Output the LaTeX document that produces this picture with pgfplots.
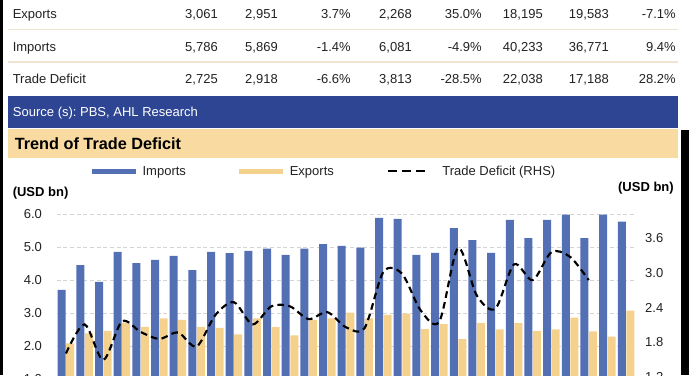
\documentclass[border=0pt]{standalone}
\usepackage{fontspec}
\setmainfont{Liberation Sans}
\usepackage{pgfplots}
\pgfplotsset{compat=1.18}
\definecolor{bandblue}{HTML}{2E4593}
\definecolor{bandtan}{HTML}{F9DBA1}
\definecolor{barblue}{HTML}{5470B4}
\definecolor{bartan}{HTML}{F5D18E}
\definecolor{gridc}{HTML}{D4D4D4}
\definecolor{sepc}{HTML}{EEE4CF}
\definecolor{tabtext}{HTML}{222222}
\newcommand{\fs}{\fontsize{9.75}{11.7}\selectfont}
\frenchspacing
\begin{document}
\fs
\begin{tikzpicture}[x=0.75pt,y=-0.75pt,
  txt/.style={inner sep=0pt, text height=7pt, text depth=0pt, text=tabtext, font=\fs}]
\path[use as bounding box] (0,0) rectangle (689,375);
\clip (0,0) rectangle (689,375);
\fill[white] (0,0) rectangle (689,375);
\fill[black] (0,0) rectangle (3,375);
\fill[black] (681,130) rectangle (689,375);
% table
\draw[sepc, line width=0.9pt] (8,29.5) -- (678,29.5);
\draw[sepc, line width=0.9pt] (8,62) -- (678,62);
\foreach \lab/\yy in {Exports/14, Imports/46.7, Trade Deficit/79.3}
  \node[txt, anchor=west] at (12.5,\yy) {\lab};
\foreach \xx/\a/\b/\c in {218/3{,}061/5{,}786/2{,}725, 278/2{,}951/5{,}869/2{,}918, 351/3.7\%/-1.4\%/-6.6\%, 412/2{,}268/6{,}081/3{,}813, 482/35.0\%/-4.9\%/-28.5\%, 543/18{,}195/40{,}233/22{,}038, 609/19{,}583/36{,}771/17{,}188, 676/-7.1\%/9.4\%/28.2\%}{
  \node[txt, anchor=east] at (\xx,14) {\a};
  \node[txt, anchor=east] at (\xx,46.7) {\b};
  \node[txt, anchor=east] at (\xx,79.3) {\c};
}
% bands
\fill[bandblue] (8,96) rectangle (678,128.3);
\node[txt, anchor=west, text=white] at (12.7,111.5) {Source (s): PBS, AHL Research};
\fill[bandtan] (8,129.3) rectangle (678,158.3);
\node[inner sep=0pt, text height=8.6pt, text depth=0pt, anchor=west, font=\fontsize{12.2}{14}\selectfont\bfseries] at (14.5,143.5) {Trend of Trade Deficit};
% unit labels
\node[txt, anchor=west, font=\fs\bfseries, text=black] at (12.5,191.7) {(USD bn)};
\node[txt, anchor=east, font=\fs\bfseries, text=black] at (674,186.7) {(USD bn)};

\begin{axis}[
  at={(42.45pt,-309.225pt)}, anchor=south west,
  width=434.1pt, height=148.5pt, scale only axis,
  xmin=-0.5, xmax=30.5, ymin=0, ymax=6,
  axis line style={draw=none}, xtick=\empty,
  ytick={1,2,3,4,5,6},
  ymajorgrids, grid style={gridc, dash pattern=on 3pt off 2pt, line width=0.6pt},
  major tick length=0pt,
  /pgf/number format/assume math mode=true,
  yticklabel style={font=\fs, text=tabtext, xshift=-7.6pt, /pgf/number format/.cd, fixed, fixed zerofill, precision=1},
  clip=false,
]
\addplot[ybar, bar width=6pt, bar shift=-3.2pt, fill=barblue, draw=none] coordinates {
(0,3.71) (1,4.46) (2,3.95) (3,4.86) (4,4.52) (5,4.62) (6,4.74) (7,4.31) (8,4.86) (9,4.82)
(10,4.89) (11,4.96) (12,4.77) (13,4.96) (14,5.10) (15,5.04) (16,4.99) (17,5.89) (18,5.86) (19,4.77)
(20,4.83) (21,5.58) (22,5.22) (23,4.83) (24,5.83) (25,5.28) (26,5.83) (27,5.99) (28,5.28) (29,5.99) (30,5.78)};
\addplot[ybar, bar width=6pt, bar shift=3.2pt, fill=bartan, draw=none] coordinates {
(0,2.09) (1,2.39) (2,2.47) (3,2.72) (4,2.59) (5,2.85) (6,2.80) (7,2.59) (8,2.56) (9,2.36)
(10,2.85) (11,2.58) (12,2.33) (13,2.80) (14,2.85) (15,3.02) (16,2.85) (17,2.95) (18,2.99) (19,2.52)
(20,2.67) (21,2.22) (22,2.70) (23,2.51) (24,2.70) (25,2.46) (26,2.51) (27,2.87) (28,2.45) (29,2.29) (30,3.08)};
\end{axis}

\begin{axis}[
  at={(42.45pt,-309.225pt)}, anchor=south west,
  width=434.1pt, height=148.5pt, scale only axis,
  xmin=-0.5, xmax=30.5, ymin=0.6, ymax=4.0,
  axis line style={draw=none}, xtick=\empty,
  axis y line*=right,
  ytick={1.2,1.8,2.4,3.0,3.6},
  major tick length=0pt,
  /pgf/number format/assume math mode=true,
  yticklabel style={font=\fs, text=tabtext, xshift=3.9pt, /pgf/number format/.cd, fixed, fixed zerofill, precision=1},
  clip=false,
  legend columns=3,
  legend style={at={(0.0613,1.2177)}, anchor=west, draw=none, fill=none, inner sep=0pt, outer sep=0pt,
    font=\fs, text=tabtext,
    /tikz/every odd column/.append style={column sep=5.25pt},
    /tikz/every even column/.append style={column sep=40pt},
    nodes={inner sep=0pt, text height=7pt, text depth=0pt}},
  legend cell align=left,
]
\addlegendimage{legend image code/.code={\fill[barblue] (0pt,-1.4pt) rectangle (32.25pt,1.4pt);}}
\addlegendentry{Imports}
\addlegendimage{legend image code/.code={\fill[bartan] (0pt,-1.4pt) rectangle (32.25pt,1.4pt);}}
\addlegendentry{Exports}
\addplot[black, line width=1.6pt, dash pattern=on 5pt off 3.2pt, smooth,
  legend image code/.code={\draw[black, line width=1.6pt, dash pattern=on 6.75pt off 3.75pt] (0pt,0pt) -- (27.75pt,0pt); \path (34.5pt,0pt);}]
coordinates {
(0,1.61) (1,2.11) (2,1.50) (3,2.16) (4,1.98) (5,1.86) (6,1.97) (7,1.73) (8,2.27) (9,2.49)
(10,2.11) (11,2.42) (12,2.42) (13,2.20) (14,2.32) (15,2.06) (16,2.05) (17,3.01) (18,2.98) (19,2.35)
(20,2.16) (21,3.42) (22,2.61) (23,2.38) (24,3.14) (25,2.87) (26,3.35) (27,3.27) (28,2.87)};
\addlegendentry{Trade Deficit (RHS)}
\end{axis}
\end{tikzpicture}
\end{document}
